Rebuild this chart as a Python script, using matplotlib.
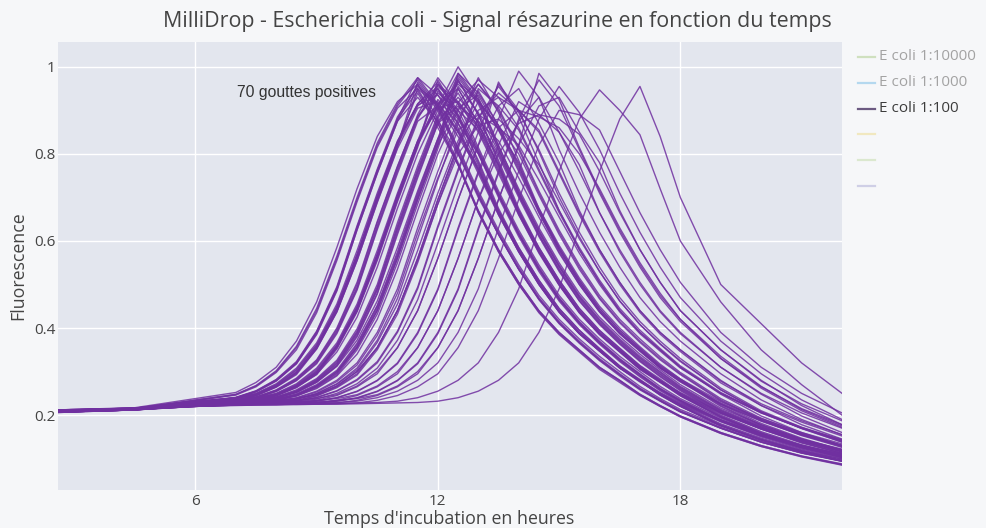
import matplotlib
matplotlib.use("Agg")
import matplotlib.pyplot as plt
from matplotlib.lines import Line2D

# temps de mesure (heures) communs a toutes les gouttes
TEMPS = [2.6, 4.5, 6.0, 7.0, 7.5, 8.0, 8.5, 9.0, 9.5, 10.0, 10.5, 11.0, 11.5, 12.0, 12.5,
         13.0, 13.5, 14.0, 14.5, 15.0, 15.5, 16.0, 16.5, 17.0, 17.5, 18.0, 19.0, 20.0, 21.0, 22.0]

# gouttes avec pic vers 11h30
GOUTTES_11H5 = [
    [.208, .213, .229, .24, .255, .28, .32, .39, .49, .63, .76, .88, .975, .915, .81, .71, .62, .54, .47, .415, .37, .33, .295, .262, .235, .21, .172, .14, .115, .096],
    [.211, .215, .234, .247, .267, .30, .355, .44, .56, .695, .82, .91, .97, .91, .80, .70, .615, .535, .465, .41, .365, .325, .29, .258, .232, .207, .17, .138, .113, .094],
    [.206, .212, .228, .238, .253, .278, .318, .385, .485, .625, .755, .875, .96, .88, .78, .67, .58, .505, .44, .39, .35, .31, .28, .248, .222, .198, .16, .13, .106, .087],
    [.209, .214, .226, .234, .245, .265, .295, .355, .44, .56, .695, .82, .965, .905, .815, .715, .625, .545, .475, .42, .375, .335, .30, .266, .238, .213, .175, .143, .118, .099],
    [.212, .216, .233, .246, .265, .298, .35, .435, .555, .69, .815, .905, .95, .87, .775, .665, .575, .50, .435, .385, .345, .305, .275, .245, .22, .196, .158, .128, .104, .085],
    [.207, .213, .229, .241, .256, .282, .323, .393, .495, .635, .765, .885, .955, .915, .855, .76, .665, .58, .505, .44, .39, .35, .31, .278, .25, .226, .187, .155, .13, .11],
    [.209, .214, .226, .235, .246, .266, .297, .358, .445, .565, .70, .825, .94, .86, .775, .665, .575, .50, .437, .387, .347, .308, .278, .246, .22, .196, .158, .128, .105, .086],
    [.21, .215, .235, .248, .268, .302, .358, .445, .565, .70, .825, .915, .975, .935, .86, .765, .67, .585, .51, .445, .395, .353, .313, .28, .252, .228, .189, .157, .131, .111],
    [.208, .213, .228, .239, .254, .279, .318, .387, .487, .626, .756, .875, .93, .875, .80, .705, .615, .535, .467, .412, .367, .327, .293, .26, .233, .208, .17, .138, .113, .095],
    [.207, .212, .225, .233, .244, .264, .293, .352, .437, .555, .69, .815, .95, .91, .85, .755, .66, .575, .50, .437, .387, .347, .308, .276, .248, .224, .185, .153, .128, .108],
    [.212, .217, .238, .252, .275, .31, .37, .46, .585, .72, .84, .92, .96, .90, .805, .705, .615, .535, .467, .412, .367, .327, .293, .26, .233, .208, .17, .138, .113, .094],
    [.209, .214, .229, .24, .255, .281, .321, .391, .492, .632, .762, .88, .945, .87, .775, .67, .58, .505, .44, .39, .35, .31, .28, .248, .222, .198, .16, .13, .106, .088],
]

# gouttes avec pic vers 12h
GOUTTES_12H = [
    [.209, .214, .226, .232, .24, .255, .28, .32, .39, .49, .63, .76, .88, .96, .90, .81, .71, .62, .54, .47, .415, .37, .33, .295, .262, .235, .19, .155, .127, .105],
    [.211, .215, .23, .238, .247, .267, .30, .355, .44, .56, .695, .82, .91, .95, .89, .805, .705, .615, .535, .465, .41, .365, .325, .29, .258, .232, .187, .152, .124, .103],
    [.208, .213, .224, .228, .234, .245, .265, .295, .355, .44, .56, .695, .82, .97, .89, .78, .67, .58, .505, .44, .39, .35, .31, .28, .248, .222, .178, .145, .118, .096],
    [.207, .212, .226, .232, .241, .256, .282, .323, .393, .494, .635, .765, .885, .94, .90, .855, .76, .665, .58, .505, .44, .39, .35, .31, .278, .25, .205, .17, .142, .12],
    [.21, .215, .231, .239, .248, .269, .303, .36, .447, .568, .70, .825, .915, .965, .885, .785, .675, .585, .51, .445, .395, .353, .313, .282, .25, .224, .18, .147, .12, .099],
    [.208, .213, .224, .229, .235, .246, .266, .297, .358, .445, .565, .70, .822, .925, .87, .80, .705, .615, .535, .467, .412, .367, .327, .293, .26, .233, .188, .153, .126, .104],
    [.206, .212, .225, .231, .239, .254, .279, .318, .387, .487, .626, .755, .875, .91, .84, .765, .66, .575, .50, .437, .387, .347, .308, .278, .246, .22, .176, .143, .116, .095],
    [.211, .216, .231, .24, .249, .27, .305, .362, .45, .57, .705, .828, .915, .955, .915, .86, .765, .67, .585, .51, .445, .395, .353, .313, .28, .252, .207, .172, .144, .122],
    [.209, .214, .227, .233, .241, .257, .283, .325, .397, .50, .642, .77, .89, .975, .915, .815, .715, .625, .545, .475, .42, .375, .335, .30, .266, .238, .193, .157, .129, .107],
    [.207, .212, .224, .228, .233, .244, .264, .293, .352, .437, .555, .69, .815, .96, .92, .85, .755, .66, .575, .50, .437, .387, .347, .308, .276, .248, .203, .168, .14, .118],
    [.212, .216, .232, .24, .25, .272, .308, .366, .455, .578, .71, .83, .912, .935, .88, .80, .70, .61, .53, .462, .408, .363, .323, .288, .256, .23, .185, .15, .122, .101],
    [.208, .213, .226, .233, .242, .258, .285, .327, .40, .505, .645, .772, .886, .95, .87, .775, .665, .577, .502, .438, .388, .348, .309, .279, .247, .221, .176, .143, .116, .094],
    [.209, .214, .225, .229, .235, .246, .267, .298, .36, .447, .57, .705, .83, .945, .885, .805, .707, .617, .537, .468, .413, .368, .328, .293, .26, .233, .188, .153, .125, .103],
    [.21, .215, .23, .238, .246, .266, .298, .352, .437, .555, .688, .812, .905, .92, .85, .77, .665, .575, .50, .436, .387, .347, .308, .278, .246, .22, .176, .143, .116, .095],
]

# gouttes avec pic vers 12h30
GOUTTES_12H5 = [
    [.209, .214, .223, .229, .232, .24, .255, .28, .32, .39, .49, .63, .76, .88, .98, .92, .81, .71, .62, .54, .47, .415, .37, .33, .295, .262, .21, .172, .14, .115],
    [.21, .215, .225, .234, .238, .247, .267, .30, .355, .44, .56, .695, .82, .91, 1.0, .93, .82, .715, .625, .545, .475, .42, .375, .335, .30, .266, .213, .175, .142, .117],
    [.208, .213, .222, .226, .228, .234, .245, .265, .295, .355, .44, .56, .695, .82, .97, .89, .78, .67, .58, .505, .44, .39, .35, .31, .28, .248, .198, .16, .13, .106],
    [.207, .212, .222, .229, .232, .241, .256, .282, .323, .393, .494, .635, .765, .885, .965, .925, .855, .76, .665, .58, .505, .44, .39, .35, .31, .278, .226, .187, .155, .13],
    [.211, .215, .226, .234, .238, .248, .268, .302, .358, .445, .565, .70, .825, .912, .95, .87, .775, .665, .575, .50, .435, .385, .345, .305, .275, .245, .196, .158, .128, .104],
    [.209, .214, .222, .227, .229, .236, .249, .27, .303, .365, .452, .575, .71, .835, .975, .915, .812, .712, .622, .542, .472, .418, .372, .332, .298, .264, .211, .173, .141, .116],
    [.208, .213, .223, .228, .231, .238, .252, .276, .313, .38, .478, .615, .745, .87, .94, .86, .775, .665, .575, .50, .437, .387, .347, .308, .278, .246, .196, .158, .128, .105],
    [.211, .216, .226, .235, .239, .249, .27, .305, .362, .45, .57, .705, .828, .915, .96, .92, .86, .765, .67, .585, .51, .445, .395, .353, .313, .28, .228, .189, .157, .131],
    [.207, .212, .222, .228, .231, .239, .254, .279, .318, .387, .487, .626, .756, .875, .93, .875, .80, .705, .615, .535, .467, .412, .367, .327, .293, .26, .208, .17, .138, .113],
    [.208, .213, .222, .226, .229, .235, .246, .266, .297, .358, .445, .565, .70, .825, .985, .94, .865, .77, .675, .59, .515, .45, .40, .357, .317, .283, .231, .192, .16, .134],
    [.212, .216, .227, .236, .24, .25, .272, .308, .366, .455, .578, .71, .83, .905, .92, .865, .795, .70, .61, .53, .462, .408, .363, .323, .288, .256, .205, .168, .136, .112],
    [.209, .214, .223, .23, .233, .242, .258, .284, .326, .398, .50, .642, .772, .89, .97, .89, .785, .675, .585, .51, .445, .394, .354, .314, .283, .25, .20, .162, .132, .108],
    [.208, .213, .221, .225, .228, .233, .244, .263, .292, .35, .432, .55, .685, .812, .95, .87, .77, .66, .572, .498, .435, .385, .345, .305, .276, .244, .195, .157, .127, .103],
    [.207, .212, .222, .228, .231, .239, .253, .277, .315, .383, .48, .62, .75, .87, .91, .875, .83, .745, .655, .572, .50, .437, .387, .347, .308, .276, .225, .186, .154, .129],
    [.21, .215, .225, .233, .237, .245, .263, .294, .345, .425, .54, .675, .80, .90, .985, .925, .818, .72, .63, .55, .48, .425, .38, .34, .304, .27, .216, .178, .145, .12],
    [.209, .214, .222, .226, .229, .235, .247, .268, .30, .362, .45, .57, .705, .83, .955, .895, .805, .705, .613, .533, .463, .41, .365, .325, .29, .258, .206, .168, .137, .112],
]

# gouttes avec pic vers 13h
GOUTTES_13H = [
    [.209, .214, .221, .226, .229, .232, .24, .255, .28, .32, .39, .49, .63, .76, .88, .96, .90, .81, .71, .62, .54, .47, .415, .37, .33, .295, .235, .19, .155, .127],
    [.21, .215, .222, .23, .234, .238, .247, .267, .30, .355, .44, .56, .695, .82, .905, .935, .855, .78, .67, .58, .505, .44, .39, .35, .31, .28, .222, .178, .145, .118],
    [.208, .213, .221, .224, .226, .228, .234, .245, .265, .295, .355, .44, .56, .695, .82, .95, .91, .855, .76, .665, .58, .505, .44, .39, .35, .31, .25, .205, .17, .142],
    [.207, .212, .221, .225, .228, .231, .237, .25, .272, .308, .372, .468, .605, .74, .87, .975, .895, .785, .675, .585, .51, .445, .395, .354, .314, .283, .225, .181, .147, .12],
    [.211, .216, .223, .229, .233, .236, .244, .261, .29, .34, .42, .535, .67, .80, .90, .96, .905, .815, .715, .625, .545, .475, .42, .375, .334, .298, .238, .193, .158, .13],
    [.209, .214, .221, .224, .226, .229, .236, .249, .271, .304, .367, .455, .578, .71, .83, .92, .865, .80, .705, .615, .535, .467, .412, .367, .327, .293, .233, .188, .153, .126],
    [.208, .213, .221, .226, .229, .232, .239, .253, .277, .315, .383, .48, .618, .745, .855, .89, .86, .82, .74, .655, .572, .50, .437, .387, .347, .308, .25, .205, .17, .142],
    [.21, .215, .222, .231, .236, .241, .252, .275, .312, .372, .462, .585, .715, .835, .918, .97, .93, .86, .765, .67, .585, .51, .445, .395, .353, .313, .252, .207, .172, .144],
    [.208, .213, .22, .224, .226, .228, .233, .244, .263, .292, .35, .432, .55, .685, .812, .945, .865, .775, .665, .575, .50, .437, .387, .347, .308, .278, .22, .176, .143, .116],
]

# gouttes avec pic vers 13h30
GOUTTES_13H5 = [
    [.209, .214, .221, .225, .227, .229, .232, .24, .255, .28, .32, .39, .49, .63, .76, .88, .955, .895, .81, .71, .62, .54, .47, .415, .37, .33, .262, .21, .172, .14],
    [.21, .215, .222, .227, .23, .234, .238, .247, .267, .30, .355, .44, .56, .695, .82, .90, .93, .90, .855, .76, .665, .58, .505, .44, .39, .35, .278, .226, .187, .155],
    [.208, .213, .221, .224, .225, .226, .228, .234, .245, .265, .295, .355, .44, .56, .695, .82, .965, .885, .78, .67, .58, .505, .44, .39, .35, .31, .248, .198, .16, .13],
    [.207, .212, .22, .225, .227, .229, .232, .241, .256, .282, .323, .393, .494, .635, .765, .885, .94, .90, .85, .755, .66, .575, .50, .436, .386, .346, .274, .222, .184, .152],
    [.211, .216, .222, .228, .231, .234, .238, .247, .267, .30, .355, .44, .555, .685, .80, .865, .88, .835, .775, .69, .605, .53, .462, .408, .363, .323, .258, .207, .17, .138],
    [.209, .214, .221, .224, .225, .227, .23, .237, .25, .272, .308, .372, .465, .595, .728, .85, .96, .90, .805, .70, .61, .53, .462, .408, .364, .325, .258, .207, .169, .138],
]

# gouttes avec pic vers 14h - 15h
GOUTTES_14H_15H = [
    [.209, .214, .221, .224, .226, .227, .229, .232, .24, .255, .28, .32, .39, .49, .63, .76, .88, .99, .93, .81, .71, .62, .54, .47, .415, .37, .295, .235, .19, .155],
    [.208, .213, .22, .223, .224, .224, .226, .228, .234, .245, .265, .295, .355, .44, .56, .695, .82, .92, .89, .85, .76, .665, .58, .505, .44, .39, .31, .25, .205, .17],
    [.21, .215, .222, .226, .228, .23, .234, .238, .247, .267, .30, .355, .44, .56, .695, .82, .91, .95, .87, .78, .67, .58, .505, .44, .39, .35, .28, .222, .178, .145],
    [.207, .212, .22, .224, .226, .227, .229, .232, .24, .254, .279, .318, .387, .487, .626, .755, .86, .90, .885, .86, .80, .72, .63, .55, .48, .42, .33, .265, .215, .178],
    [.209, .214, .221, .224, .225, .226, .227, .229, .232, .24, .255, .28, .32, .39, .49, .63, .76, .88, .97, .91, .81, .71, .62, .54, .47, .415, .33, .262, .21, .172],
    [.208, .213, .22, .223, .224, .224, .225, .226, .228, .234, .245, .265, .295, .355, .44, .56, .695, .82, .985, .925, .815, .715, .625, .545, .475, .42, .335, .266, .213, .175],
    [.21, .215, .222, .226, .227, .228, .23, .234, .238, .247, .267, .30, .355, .44, .56, .695, .80, .87, .89, .88, .845, .76, .665, .58, .505, .44, .35, .278, .226, .187],
    [.209, .214, .221, .224, .225, .226, .227, .229, .232, .239, .254, .279, .318, .387, .487, .626, .755, .875, .93, .85, .775, .665, .575, .50, .437, .387, .31, .248, .198, .16],
    [.209, .214, .221, .224, .225, .226, .227, .228, .229, .232, .24, .255, .28, .32, .39, .49, .63, .76, .88, .955, .895, .81, .71, .62, .54, .47, .37, .295, .235, .19],
    [.208, .213, .22, .223, .224, .224, .225, .225, .226, .228, .234, .245, .265, .295, .355, .44, .56, .695, .82, .90, .89, .855, .76, .665, .58, .505, .39, .31, .25, .205],
    [.21, .215, .222, .225, .226, .227, .228, .23, .234, .238, .247, .267, .30, .355, .44, .56, .695, .82, .91, .93, .85, .78, .67, .58, .505, .44, .35, .28, .222, .178],
]

# deux gouttes tardives (pic vers 16h et 17h)
GOUTTES_TARDIVES = [
    [.209, .214, .221, .223, .224, .225, .225, .226, .227, .228, .229, .232, .24, .255, .28, .32, .39, .49, .63, .76, .88, .947, .90, .844, .72, .60, .46, .35, .27, .20],
    [.208, .213, .22, .222, .223, .224, .224, .225, .225, .226, .227, .228, .229, .232, .24, .255, .28, .32, .39, .49, .63, .76, .88, .955, .84, .70, .50, .41, .32, .25],
]

LEGENDE = ["E coli 1:10000", "E coli 1:1000", "E coli 1:100", "", "", ""]
COULEURS_LEGENDE = ["#cfe0bf", "#b4d8ef", "#6c5a82", "#f1e8c0", "#dbe8cf", "#cfcfe6"]
TEXTE_LEGENDE = ["#a3a3a3", "#a3a3a3", "#3c3c3c", "#a3a3a3", "#a3a3a3", "#a3a3a3"]

TITRE = "MilliDrop - Escherichia coli - Signal résazurine en fonction du temps"
VIOLET = "#7030a0"
FOND = "#f6f7f9"
FOND_AXE = "#e3e6ee"

W, H = 987, 528


def tracer():
    plt.rcParams["font.family"] = ["Open Sans", "DejaVu Sans"]
    fig = plt.figure(figsize=(W / 100, H / 100), dpi=100, facecolor=FOND)

    ax = fig.add_axes([58 / W, 1 - 490 / H, (842 - 58) / W, (490 - 42) / H])
    ax.set_facecolor(FOND_AXE)

    groupes = [GOUTTES_11H5, GOUTTES_12H, GOUTTES_12H5, GOUTTES_13H, GOUTTES_13H5,
               GOUTTES_14H_15H, GOUTTES_TARDIVES]
    n = 0
    for groupe in groupes:
        for valeurs in groupe:
            assert len(valeurs) == len(TEMPS), n
            ax.plot(TEMPS, valeurs, color=VIOLET, linewidth=1.0, alpha=0.85)
            n += 1

    ax.set_xlim(2.6, 22.0)
    ax.set_ylim(0.028, 1.057)
    ax.set_xticks([6, 12, 18])
    ax.set_yticks([0.2, 0.4, 0.6, 0.8, 1.0])
    ax.set_yticklabels(["0.2", "0.4", "0.6", "0.8", "1"])
    ax.tick_params(axis="x", length=0, labelsize=11, colors="#444444", pad=3)
    ax.tick_params(axis="y", length=0, labelsize=11, colors="#444444", pad=2)
    ax.grid(True, color="white", linewidth=1)
    ax.set_axisbelow(True)
    for s in ax.spines.values():
        s.set_visible(False)

    ax.text(8.75, 0.94, "%d gouttes positives" % n, fontsize=11.3, color="#333333",
            ha="center", va="center", family=["Liberation Sans", "DejaVu Sans"])

    fig.text(497 / W, 1 - 21 / H, TITRE, fontsize=15.4, color="#444444", ha="center", va="center")
    fig.text(449 / W, 1 - 519 / H, "Temps d'incubation en heures", fontsize=12.8,
             color="#444444", ha="center", va="center")
    fig.text(18 / W, 1 - 266 / H, "Fluorescence", fontsize=12.8, color="#444444",
             ha="center", va="center", rotation=90)

    # legende a droite, facon plotly
    for i, nom in enumerate(LEGENDE):
        y = 1 - (57 + i * 25.8) / H
        fig.add_artist(Line2D([858 / W, 875 / W], [y, y], color=COULEURS_LEGENDE[i],
                              linewidth=1.6, transform=fig.transFigure))
        if nom:
            fig.text(879 / W, y, nom, fontsize=11, color=TEXTE_LEGENDE[i], ha="left", va="center")

    fig.savefig("out.png", dpi=100, facecolor=fig.get_facecolor())


tracer()
